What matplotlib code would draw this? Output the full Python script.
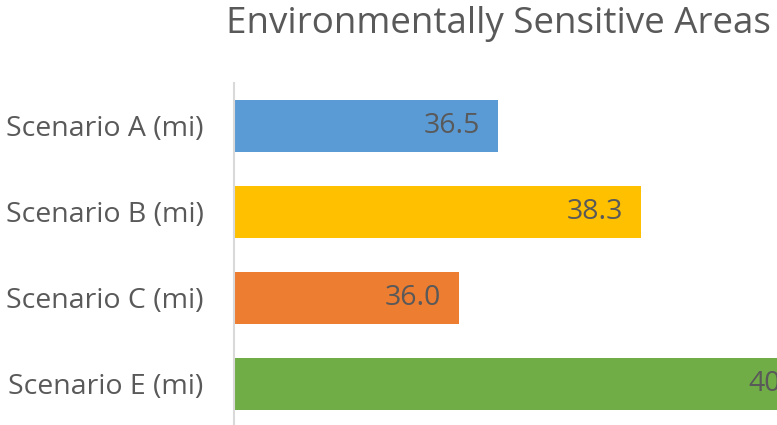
import matplotlib.pyplot as plt

# values (axis does not start at zero)
categories = ["Scenario A (mi)", "Scenario B (mi)", "Scenario C (mi)", "Scenario E (mi)"]
values = [36.5, 38.3, 36.0, 40.6]
labels = ["36.5", "38.3", "36.0", "40.6"]
colors = ["#5B9BD5", "#FFC000", "#ED7D31", "#70AD47"]

plt.rcParams["font.family"] = ["Open Sans", "DejaVu Sans"]
text_color = "#595959"

fig = plt.figure(figsize=(7.77, 4.25), dpi=100)
ax = fig.add_axes([234 / 777, -2 / 425, 543 / 777, 344 / 425])

ypos = list(range(len(categories)))
ax.barh(ypos, values, height=0.605, color=colors, left=0)
ax.set_xlim(33.16, 40.02)
ax.set_ylim(len(categories) - 0.5, -0.5)

for y, v, lab in zip(ypos, values, labels):
    ax.annotate(lab, xy=(v, y), xytext=(-13, 0), textcoords="offset points",
                ha="right", va="center", fontsize=20.5, color=text_color,
                annotation_clip=False)

ax.set_yticks(ypos)
ax.set_yticklabels(categories, fontsize=20.5, color=text_color)
ax.tick_params(axis="y", length=0, pad=22)
ax.set_xticks([])
for side in ["top", "right", "bottom"]:
    ax.spines[side].set_visible(False)
ax.spines["left"].set_color("#D9D9D9")
ax.spines["left"].set_linewidth(1.5)

fig.text(226 / 777, 1 - 24 / 425, "Environmentally Sensitive Areas",
         ha="left", va="center", fontsize=26.5, color=text_color)

fig.savefig("out.png", dpi=100)
